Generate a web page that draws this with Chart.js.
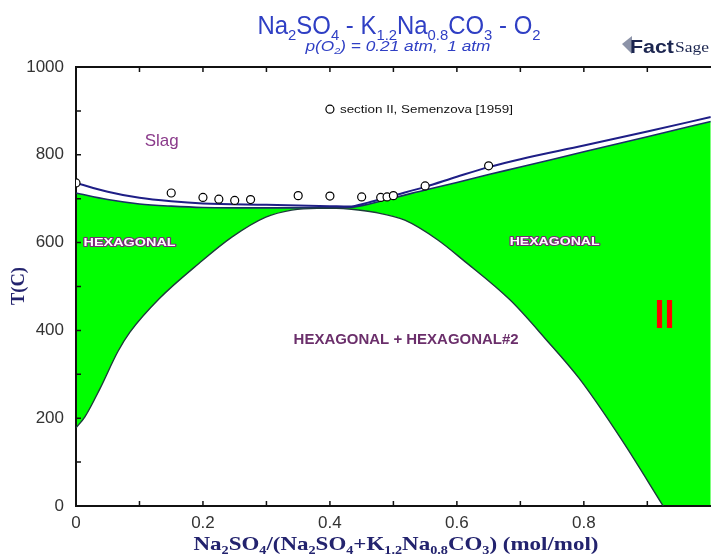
<!DOCTYPE html>
<html>
<head>
<meta charset="utf-8">
<script src="https://cdn.jsdelivr.net/npm/chart.js@4.4.1/dist/chart.umd.min.js"></script>
<style>
  html, body { margin: 0; padding: 0; background: #fff; overflow: hidden; }
  #wrap { width: 716px; height: 557px; }
</style>
</head>
<body>
<div id="wrap"><canvas id="phaseChart" width="716" height="557"></canvas></div>
<script>
// liquidus (Slag boundary, upper blue line)
const liquidusX = [0, 0.05, 0.1, 0.15, 0.2, 0.3, 0.4, 0.43, 0.46, 0.5, 0.55, 0.6, 0.65, 0.7, 0.8, 0.9, 1.0];
const liquidusT = [736, 716, 702, 694, 689, 686, 683, 682, 691, 707, 727, 750, 772, 790, 821, 853, 886];

// solidus (top edge of the green HEXAGONAL field)
const solidusX = [0, 0.05, 0.1, 0.15, 0.2, 0.3, 0.4, 0.43, 0.5, 0.55, 0.6, 0.65, 0.7, 0.8, 0.9, 1.0];
const solidusT = [713, 698, 688, 683, 680, 679, 679, 680, 702, 720, 737, 755, 772, 807, 841, 876];

// miscibility gap (HEXAGONAL + HEXAGONAL#2)
const domeX = [0, 0.014, 0.038, 0.066, 0.085, 0.131, 0.194, 0.246, 0.299, 0.34, 0.38, 0.41, 0.434, 0.47, 0.518, 0.57, 0.61, 0.684, 0.74, 0.793, 0.86, 0.925];
const domeT = [178, 203, 268, 352, 396, 472, 553, 613, 658, 674, 678, 678, 676, 669, 651, 606, 560, 469, 380, 290, 150, 0];

// section II, Semenzova [1959]
const expX = [0, 0.15, 0.2, 0.225, 0.25, 0.275, 0.35, 0.4, 0.45, 0.48, 0.49, 0.5, 0.55, 0.65];
const expT = [736, 713, 703, 699, 696, 698, 707, 706, 704, 703, 704, 707, 729, 775];

const xTicks = [0, 0.2, 0.4, 0.6, 0.8];
const yTicks = [0, 200, 400, 600, 800, 1000];

const toPoints = (xs, ys) => xs.map((x, i) => ({ x: x, y: ys[i] }));

const sans = "'Liberation Sans', Arial, sans-serif";
const narrow = "'Liberation Sans Narrow', 'Arial Narrow', 'Liberation Sans', Arial, sans-serif";
const serif = "'Liberation Serif', 'Times New Roman', serif";

// text with subscripts, squeezed to a given width if asked
function drawFormula(ctx, segs, o) {
  const sub = o.size * 0.62;
  const font = s => (o.italic ? 'italic ' : '') + (o.weight || 'normal') + ' ' + s + 'px ' + o.family;
  let total = 0;
  const widths = segs.map(([t, isSub]) => {
    ctx.font = font(isSub ? sub : o.size);
    const w = ctx.measureText(t).width;
    total += w;
    return w;
  });
  const sx = o.width ? o.width / total : 1;
  ctx.save();
  ctx.translate(o.x, o.y);
  if (o.rotate) ctx.rotate(o.rotate);
  ctx.scale(sx, 1);
  ctx.textAlign = 'left';
  ctx.textBaseline = 'alphabetic';
  let cx = o.align === 'left' ? 0 : -total / 2;
  segs.forEach(([t, isSub], i) => {
    ctx.font = font(isSub ? sub : o.size);
    const dy = isSub ? o.size * 0.22 : 0;
    if (o.stroke) {
      ctx.strokeStyle = o.stroke;
      ctx.lineWidth = o.strokeWidth || 2;
      ctx.lineJoin = 'round';
      ctx.strokeText(t, cx, dy);
    }
    ctx.fillStyle = o.color;
    ctx.fillText(t, cx, dy);
    cx += widths[i];
  });
  ctx.restore();
}

const phaseDecor = {
  id: 'phaseDecor',
  beforeDatasetsDraw(chart) {
    // frame and ticks go over the fills but under the lines and circles
    const { ctx, chartArea: a, scales: { x, y } } = chart;
    ctx.save();
    ctx.strokeStyle = '#111';
    ctx.lineWidth = 2;
    ctx.beginPath();
    ctx.moveTo(a.right + 2, a.top);
    ctx.lineTo(a.left, a.top);
    ctx.lineTo(a.left, a.bottom);
    ctx.lineTo(a.right + 2, a.bottom);
    ctx.stroke();

    ctx.lineWidth = 1.5;
    ctx.beginPath();
    for (let i = 1; i < 10; i++) {
      const tx = x.getPixelForValue(i / 10);
      ctx.moveTo(tx, a.bottom); ctx.lineTo(tx, a.bottom - 5);
      ctx.moveTo(tx, a.top); ctx.lineTo(tx, a.top + 5);
    }
    for (let i = 1; i < 10; i++) {
      const ty = y.getPixelForValue(i * 100);
      ctx.moveTo(a.left, ty); ctx.lineTo(a.left + 5, ty);
    }
    ctx.stroke();
    ctx.restore();
  },
  afterDatasetsDraw(chart) {
    const { ctx, scales: { x, y } } = chart;
    const px = v => x.getPixelForValue(v);
    const py = v => y.getPixelForValue(v);

    // field labels
    drawFormula(ctx, [['Slag', 0]], { x: px(0.135), y: py(834) + 6, size: 17, family: sans, color: '#8a3a8a', width: 34 });
    drawFormula(ctx, [['HEXAGONAL', 0]], { x: px(0.012), y: py(601) + 4, size: 11, family: sans, weight: 'bold', color: '#ffffff', stroke: '#7a2a7a', strokeWidth: 2, align: 'left', width: 92 });
    drawFormula(ctx, [['HEXAGONAL', 0]], { x: px(0.754), y: py(604) + 4, size: 11, family: sans, weight: 'bold', color: '#ffffff', stroke: '#7a2a7a', strokeWidth: 2, width: 90 });
    drawFormula(ctx, [['HEXAGONAL + HEXAGONAL#2', 0]], { x: px(0.52), y: py(380) + 5, size: 14, family: sans, weight: 'bold', color: '#6b2f6b', width: 225 });
    drawFormula(ctx, [['II', 0]], { x: px(0.927), y: py(440) + 15, size: 41, family: sans, weight: 'bold', color: '#ff0000', width: 20 });

    // legend inside the plot
    ctx.save();
    ctx.beginPath();
    ctx.arc(px(0.4), py(904), 4, 0, Math.PI * 2);
    ctx.fillStyle = '#fff';
    ctx.fill();
    ctx.strokeStyle = '#000';
    ctx.lineWidth = 1.2;
    ctx.stroke();
    ctx.restore();
    drawFormula(ctx, [['section II, Semenzova [1959]', 0]], { x: px(0.4) + 10, y: py(904) + 4, size: 11, family: sans, color: '#111', align: 'left', width: 173 });
  },
  afterDraw(chart) {
    const { ctx } = chart;
    // titles
    drawFormula(ctx, [['Na', 0], ['2', 1], ['SO', 0], ['4', 1], [' - K', 0], ['1.2', 1], ['Na', 0], ['0.8', 1], ['CO', 0], ['3', 1], [' - O', 0], ['2', 1]],
      { x: 399, y: 34, size: 25, family: narrow, color: '#2f3fc4', width: 283 });
    drawFormula(ctx, [['p(O', 0], ['2', 1], [') = 0.21 atm,  1 atm', 0]],
      { x: 398, y: 51, size: 14, family: narrow, italic: true, color: '#2f3fc4', width: 185 });

    // x axis title
    drawFormula(ctx, [['Na', 0], ['2', 1], ['SO', 0], ['4', 1], ['/(Na', 0], ['2', 1], ['SO', 0], ['4', 1], ['+K', 0], ['1.2', 1], ['Na', 0], ['0.8', 1], ['CO', 0], ['3', 1], [') (mol/mol)', 0]],
      { x: 396, y: 550, size: 19, family: serif, weight: 'bold', color: '#23236e', width: 405 });
    // y axis title
    drawFormula(ctx, [['T(C)', 0]], { x: 24, y: 286, size: 19, family: serif, weight: 'bold', color: '#23236e', rotate: -Math.PI / 2, width: 38 });

    // FactSage mark
    ctx.save();
    ctx.fillStyle = '#8c93a8';
    ctx.beginPath();
    ctx.moveTo(622, 44); ctx.lineTo(632, 36); ctx.lineTo(632, 54); ctx.closePath();
    ctx.fill();
    ctx.restore();
    drawFormula(ctx, [['Fact', 0]], { x: 630, y: 53, size: 18, family: sans, weight: 'bold', color: '#1c2650', align: 'left', width: 44 });
    drawFormula(ctx, [['Sage', 0]], { x: 675, y: 52, size: 14, family: serif, color: '#1c2650', align: 'left', width: 34 });
  }
};

const ctx = document.getElementById('phaseChart');

new Chart(ctx, {
  type: 'scatter',
  data: {
    datasets: [
      {
        label: 'solidus',
        data: toPoints(solidusX, solidusT),
        showLine: true,
        borderColor: '#1b2f66',
        borderWidth: 1.6,
        pointRadius: 0,
        cubicInterpolationMode: 'monotone',
        fill: 'start',
        backgroundColor: '#00ff00',
        order: 3
      },
      {
        label: 'dome',
        data: toPoints(domeX, domeT),
        showLine: true,
        borderColor: '#1d3b3b',
        borderWidth: 1.4,
        pointRadius: 0,
        cubicInterpolationMode: 'monotone',
        fill: 'start',
        backgroundColor: '#ffffff',
        order: 2
      },
      {
        label: 'liquidus',
        data: toPoints(liquidusX, liquidusT),
        showLine: true,
        borderColor: '#1e1e86',
        borderWidth: 2,
        pointRadius: 0,
        cubicInterpolationMode: 'monotone',
        fill: false,
        order: 1
      },
      {
        label: 'section II, Semenzova [1959]',
        data: toPoints(expX, expT),
        showLine: false,
        pointRadius: 4,
        pointBackgroundColor: '#ffffff',
        pointBorderColor: '#000000',
        pointBorderWidth: 1.2,
        order: 0
      }
    ]
  },
  options: {
    responsive: false,
    animation: false,
    layout: { padding: { top: 67, left: 0, right: 0, bottom: 0 } },
    plugins: {
      legend: { display: false },
      title: { display: false },
      tooltip: { enabled: false },
      filler: { drawTime: 'beforeDatasetsDraw' }
    },
    scales: {
      x: {
        type: 'linear',
        min: 0,
        max: 1,
        afterBuildTicks: s => { s.ticks = xTicks.map(v => ({ value: v })); },
        afterFit: s => { s.height = 51; },
        ticks: {
          autoSkip: false,
          maxRotation: 0,
          padding: 7,
          color: '#333',
          font: { family: sans, size: 17 },
          callback: v => String(v)
        },
        grid: { display: false, drawTicks: false },
        border: { display: false }
      },
      y: {
        min: 0,
        max: 1000,
        afterBuildTicks: s => { s.ticks = yTicks.map(v => ({ value: v })); },
        afterFit: s => { s.width = 76; },
        ticks: {
          padding: 12,
          color: '#333',
          font: { family: sans, size: 17 },
          callback: v => String(v)
        },
        grid: { display: false, drawTicks: false },
        border: { display: false }
      }
    }
  },
  plugins: [phaseDecor]
});
</script>
</body>
</html>
